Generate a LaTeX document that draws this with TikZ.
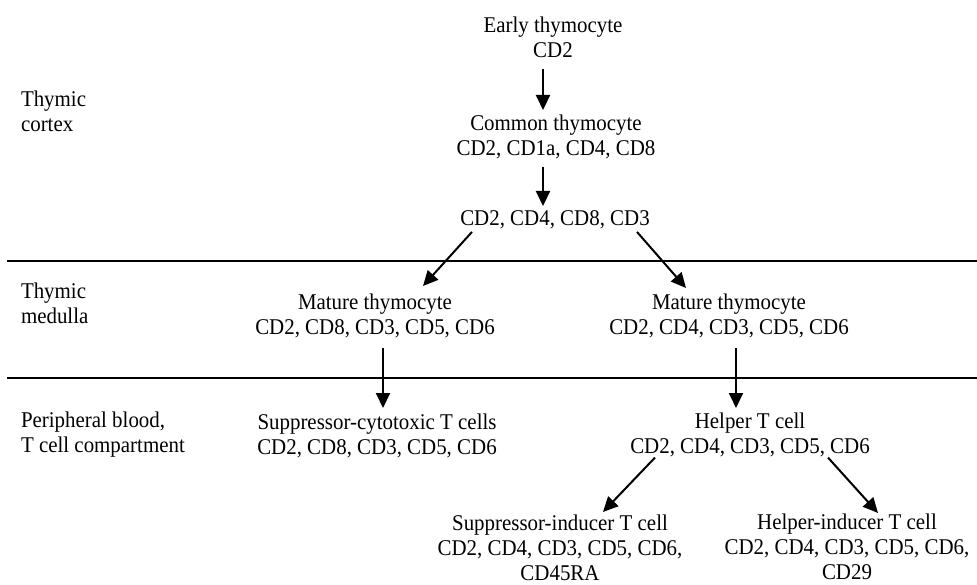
\documentclass[tikz,border=0pt]{standalone}
\usepackage{fontspec}
\setmainfont{Liberation Serif}[FakeStretch=0.93]
\usetikzlibrary{arrows.meta}
\begin{document}
\begin{tikzpicture}[x=1pt,y=-1pt,
  txt/.style={align=center,inner sep=0pt,outer sep=0pt,anchor=north,font=\fontsize{22.5}{25}\selectfont},
  side/.style={align=left,inner sep=0pt,outer sep=0pt,anchor=north west,font=\fontsize{22.5}{25.5}\selectfont},
  arr/.style={line width=2pt,-{Triangle[length=15pt,width=14pt]}},
  sepline/.style={line width=2.4pt}]
\useasboundingbox (0,0) rectangle (977,585);
% side labels
\node[side] (cortex) at (21,90.5) {Thymic\\cortex};
\node[side] (medulla) at (21,282.5) {Thymic\\medulla};
\node[side] (periph) at (21,411.5) {Peripheral blood,\\T cell compartment};
% separator lines
\draw[sepline] (7,261) -- (977,261);
\draw[sepline] (7,378) -- (977,378);
% nodes
\node[txt] (early) at (553,16.5) {Early thymocyte\\CD2};
\node[txt] (common) at (556,114.5) {Common thymocyte\\CD2, CD1a, CD4, CD8};
\node[txt] (cdthree) at (555,210.5) {CD2, CD4, CD8, CD3};
\node[txt] (mateight) at (375,293.5) {Mature thymocyte\\CD2, CD8, CD3, CD5, CD6};
\node[txt] (matfour) at (729,293.5) {Mature thymocyte\\CD2, CD4, CD3, CD5, CD6};
\node[txt] (supcyt) at (377,413.5) {Suppressor-cytotoxic T cells\\CD2, CD8, CD3, CD5, CD6};
\node[txt] (helper) at (750,412.5) {Helper T cell\\CD2, CD4, CD3, CD5, CD6};
\node[txt] (supind) at (560,514.5) {Suppressor-inducer T cell\\CD2, CD4, CD3, CD5, CD6,\\CD45RA};
\node[txt] (helind) at (847,513.5) {Helper-inducer T cell\\CD2, CD4, CD3, CD5, CD6,\\CD29};
% arrows
\draw[arr] ([shift={(-10,12)}]early.south) -- ([shift={(-13,-4.5)}]common.north);
\draw[arr] ([shift={(-13,8)}]common.south) -- ([shift={(-12,-4.5)}]cdthree.north);
\draw[arr] ([shift={(-83,3)}]cdthree.south) -- ([shift={(48,-7.5)}]mateight.north);
\draw[arr] ([shift={(82,3)}]cdthree.south) -- ([shift={(-43,-5.5)}]matfour.north);
\draw[arr] ([shift={(8,10)}]mateight.south) -- ([shift={(6,-5.5)}]supcyt.north);
\draw[arr] ([shift={(7,10)}]matfour.south) -- ([shift={(-14,-4.5)}]helper.north);
\draw[arr] ([shift={(-95,1)}]helper.south) -- ([shift={(43,-2.5)}]supind.north);
\draw[arr] ([shift={(78,1)}]helper.south) -- ([shift={(31,-0.5)}]helind.north);
\end{tikzpicture}
\end{document}
